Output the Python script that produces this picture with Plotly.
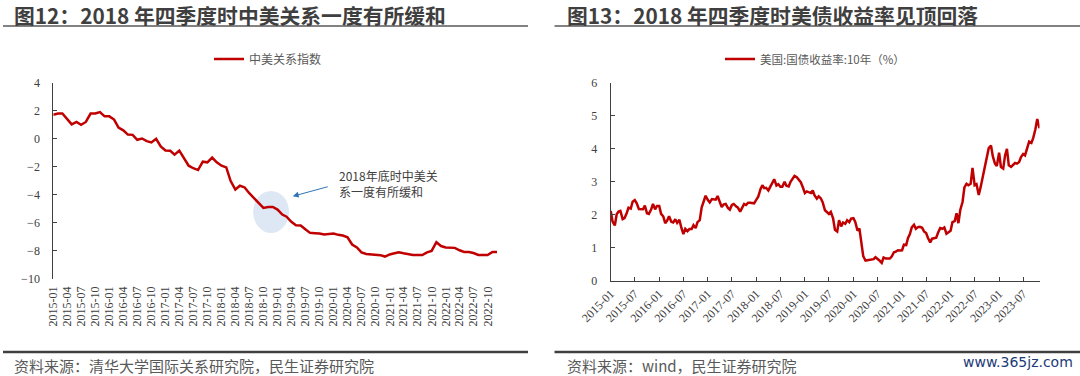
import pandas as pd
import plotly.graph_objects as go

# ---------------- data ----------------
# Left: 中美关系指数 (monthly, 2015-01 .. 2022-12)
rel_months = pd.date_range("2015-01-01", "2022-12-01", freq="MS").strftime("%Y-%m").tolist()
rel_index = [
    1.72, 1.80, 1.80, 1.44, 1.03, 1.20, 1.00, 1.20, 1.80, 1.80, 1.90, 1.60,
    1.60, 1.37, 0.80, 0.60, 0.30, 0.28, -0.07, 0.02, -0.17, -0.26, 0.00, -0.55,
    -0.84, -0.86, -1.13, -0.84, -1.37, -1.92, -2.10, -2.23, -1.63, -1.68, -1.34, -1.68,
    -1.92, -2.04, -3.00, -3.62, -3.35, -3.47, -3.88, -4.26, -4.62, -4.93, -4.86, -4.86,
    -5.05, -5.40, -5.56, -5.92, -6.16, -6.18, -6.45, -6.71, -6.73, -6.75, -6.83, -6.78,
    -6.75, -6.85, -6.90, -7.02, -7.54, -7.75, -8.10, -8.22, -8.26, -8.26, -8.30, -8.40,
    -8.25, -8.17, -8.10, -8.17, -8.25, -8.29, -8.29, -8.29, -8.10, -8.00, -7.38, -7.65,
    -7.75, -7.78, -7.78, -7.95, -8.07, -8.07, -8.15, -8.29, -8.29, -8.29, -8.07, -8.07,
]

# Right: 美国:国债收益率:10年 (%) (semi-monthly readings, 2015-01-01 .. 2023-11-01)
ust_dates = pd.date_range("2015-01-01", "2023-11-01", freq="SMS").strftime("%Y-%m-%d").tolist()
ust_10y = [
    2.12, 1.80, 1.68, 2.02, 2.10, 2.12, 1.87, 1.90, 2.05, 2.22, 2.19, 2.40, 2.45, 2.36, 2.18, 2.18, 2.17, 2.28, 2.05, 2.03, 2.16, 2.33, 2.17, 2.27,
    2.27, 2.03, 1.95, 1.75, 1.83, 1.96, 1.79, 1.77, 1.87, 1.76, 1.85, 1.62, 1.42, 1.58, 1.51, 1.57, 1.57, 1.69, 1.60, 1.78, 1.84, 2.22, 2.40, 2.58,
    2.45, 2.38, 2.48, 2.47, 2.46, 2.57, 2.40, 2.24, 2.32, 2.33, 2.21, 2.16, 2.30, 2.33, 2.26, 2.22, 2.10, 2.20, 2.33, 2.30, 2.37, 2.37, 2.37, 2.35,
    2.46, 2.55, 2.78, 2.90, 2.81, 2.82, 2.74, 2.83, 2.97, 3.08, 2.89, 2.93, 2.85, 2.85, 3.00, 2.88, 2.86, 3.00, 3.09, 3.18, 3.14, 3.08, 2.99, 2.85,
    2.66, 2.71, 2.68, 2.66, 2.74, 2.59, 2.49, 2.56, 2.50, 2.38, 2.14, 2.09, 2.03, 2.09, 1.90, 1.55, 1.50, 1.84, 1.65, 1.77, 1.73, 1.84, 1.78, 1.89,
    1.90, 1.79, 1.52, 1.59, 1.13, 0.75, 0.62, 0.63, 0.64, 0.64, 0.66, 0.72, 0.68, 0.62, 0.55, 0.71, 0.68, 0.68, 0.68, 0.74, 0.87, 0.89, 0.93, 0.92,
    0.93, 1.10, 1.09, 1.30, 1.42, 1.62, 1.70, 1.58, 1.63, 1.64, 1.61, 1.50, 1.45, 1.30, 1.17, 1.28, 1.30, 1.31, 1.48, 1.60, 1.58, 1.62, 1.43, 1.46,
    1.52, 1.78, 1.81, 2.05, 1.75, 2.15, 2.39, 2.83, 2.94, 2.90, 2.94, 3.42, 2.90, 2.93, 2.60, 2.84, 3.20, 3.45, 3.80, 4.02, 4.10, 3.77, 3.55, 3.48,
    3.88, 3.45, 3.40, 3.80, 4.00, 3.50, 3.45, 3.52, 3.57, 3.55, 3.60, 3.75, 3.84, 3.80, 4.05, 4.22, 4.18, 4.33, 4.59, 4.90, 4.62,
]

left_title = "图12：2018 年四季度时中美关系一度有所缓和"
right_title = "图13：2018 年四季度时美债收益率见顶回落"
left_source = "资料来源：清华大学国际关系研究院，民生证券研究院"
right_source = "资料来源：wind，民生证券研究院"
left_name = "中美关系指数"
right_name = "美国:国债收益率:10年（%）"
note_text = "2018年底时中美关<br>系一度有所缓和"

# ---------------- layout helpers ----------------
W, H = 1080, 376
def px_x(p): return p / W
def px_y(p): return 1 - p / H

RED = "#c00000"
AX = "#404040"
SERIF = "Liberation Serif"
CJK = "Noto Sans CJK SC"
tickfont = dict(family=SERIF, size=12, color=AX)

L_dom_x = [px_x(53.3), px_x(497)]
L_dom_y = [px_y(279), px_y(82.7)]
R_dom_x = [px_x(610.7), px_x(1039.5)]
R_dom_y = [px_y(281), px_y(82.7)]
ymin_l, ymax_l = -10, 4
zero_pos = L_dom_y[0] + (L_dom_y[1] - L_dom_y[0]) * (0 - ymin_l) / (ymax_l - ymin_l)

fig = go.Figure()
fig.add_trace(go.Scatter(x=rel_months, y=rel_index, mode="lines", name=left_name,
                         line=dict(color=RED, width=2.5), xaxis="x", yaxis="y",
                         legend="legend"))
fig.add_trace(go.Scatter(x=ust_dates, y=ust_10y, mode="lines", name=right_name,
                         line=dict(color=RED, width=2.5), xaxis="x3", yaxis="y3",
                         legend="legend2"))

l_range = ["2015-01-01", "2022-12-01"]
fig.update_layout(
    width=W, height=H, autosize=False,
    margin=dict(l=0, r=0, t=0, b=0, autoexpand=False),
    paper_bgcolor="white", plot_bgcolor="rgba(0,0,0,0)",
    xaxis=dict(domain=L_dom_x, anchor="y", type="date", range=l_range,
               tick0="2015-01-01", dtick="M3", tickformat="%Y-%m", tickangle=-90,
               showline=False, ticks="", showgrid=False, zeroline=False,
               tickfont=tickfont, ticklabelstandoff=4, automargin=False),
    xaxis2=dict(domain=L_dom_x, overlaying="x", anchor="free", position=zero_pos,
                type="date", range=l_range, tick0="2015-01-01", dtick="M3",
                showline=True, linecolor=AX, linewidth=1, ticks="outside",
                ticklen=4, tickcolor=AX, showticklabels=False, showgrid=False,
                zeroline=False, automargin=False),
    yaxis=dict(domain=L_dom_y, anchor="x", range=[ymin_l, ymax_l], dtick=2,
               showline=True, linecolor=AX, linewidth=1, ticks="inside", ticklen=4,
               tickcolor=AX, showgrid=False, zeroline=False, tickfont=tickfont,
               ticklabelstandoff=10, automargin=False),
    xaxis3=dict(domain=R_dom_x, anchor="y3", type="date",
                range=["2015-01-01", "2023-11-01"], tick0="2015-01-01", dtick="M6",
                tickformat="%Y-%m", tickangle=-45, showline=True, linecolor=AX,
                linewidth=1, ticks="inside", ticklen=4, tickcolor=AX, showgrid=False,
                zeroline=False, tickfont=tickfont, automargin=False),
    yaxis3=dict(domain=R_dom_y, anchor="x3", range=[0, 6], dtick=1,
                showline=True, linecolor=AX, linewidth=1, ticks="inside", ticklen=4,
                tickcolor=AX, showgrid=False, zeroline=False, tickfont=tickfont,
                ticklabelstandoff=10, automargin=False),
    legend=dict(x=px_x(209), y=px_y(59), xanchor="left", yanchor="middle",
                font=dict(family=CJK, size=12, color="#595959"),
                bgcolor="rgba(0,0,0,0)", borderwidth=0),
    legend2=dict(x=px_x(720), y=px_y(59), xanchor="left", yanchor="middle",
                 font=dict(family=CJK, size=11.5, color="#595959"),
                 bgcolor="rgba(0,0,0,0)", borderwidth=0),
    showlegend=True,
)

# titles and sources
for txt, x in [(left_title, 12), (right_title, 564.5)]:
    fig.add_annotation(text="<b>" + txt + "</b>", xref="paper", yref="paper",
                       x=px_x(x), y=px_y(14.5), xanchor="left", yanchor="middle",
                       showarrow=False, font=dict(family=CJK, size=20.8, color="#3f3f3f"))
for txt, x in [(left_source, 12), (right_source, 564.5)]:
    fig.add_annotation(text=txt, xref="paper", yref="paper",
                       x=px_x(x), y=px_y(365), xanchor="left", yanchor="middle",
                       showarrow=False, font=dict(family=CJK, size=15, color="#595959"))
fig.add_annotation(text="www.365jz.com", xref="paper", yref="paper",
                   x=px_x(1075), y=px_y(362), xanchor="right", yanchor="middle",
                   showarrow=False, font=dict(family="DejaVu Sans", size=14, color="#1b3a78"))

# separator lines
for x0, x1 in [(3, 528), (554.5, 1080)]:
    fig.add_shape(type="line", xref="paper", yref="paper", x0=px_x(x0), x1=px_x(x1),
                  y0=px_y(26), y1=px_y(26), line=dict(color="#595959", width=1.6))
    fig.add_shape(type="line", xref="paper", yref="paper", x0=px_x(x0), x1=px_x(x1),
                  y0=px_y(352), y1=px_y(352), line=dict(color="#404040", width=2.5))

# highlight ellipse, arrow and note on left chart
fig.add_shape(type="circle", xref="x", yref="y", x0="2018-07-26", x1="2019-03-17",
              y0=-6.72, y1=-3.72, fillcolor="#dde8f4", line=dict(width=0), layer="below")
fig.add_annotation(x="2019-04-10", y=-4.1, ax="2019-12-04", ay=-3.39, xref="x", yref="y",
                   axref="x", ayref="y", text="", showarrow=True, arrowhead=2,
                   arrowsize=1.2, arrowwidth=1, arrowcolor="#2e75b6")
fig.add_annotation(x="2020-01-25", y=-3.17, xref="x", yref="y", text=note_text,
                   xanchor="left", yanchor="middle", align="left", showarrow=False,
                   font=dict(family=CJK, size=12, color="#404040"))

fig.write_html("out.html", config={"displayModeBar": False},
               post_script="document.body.style.margin='0';")
